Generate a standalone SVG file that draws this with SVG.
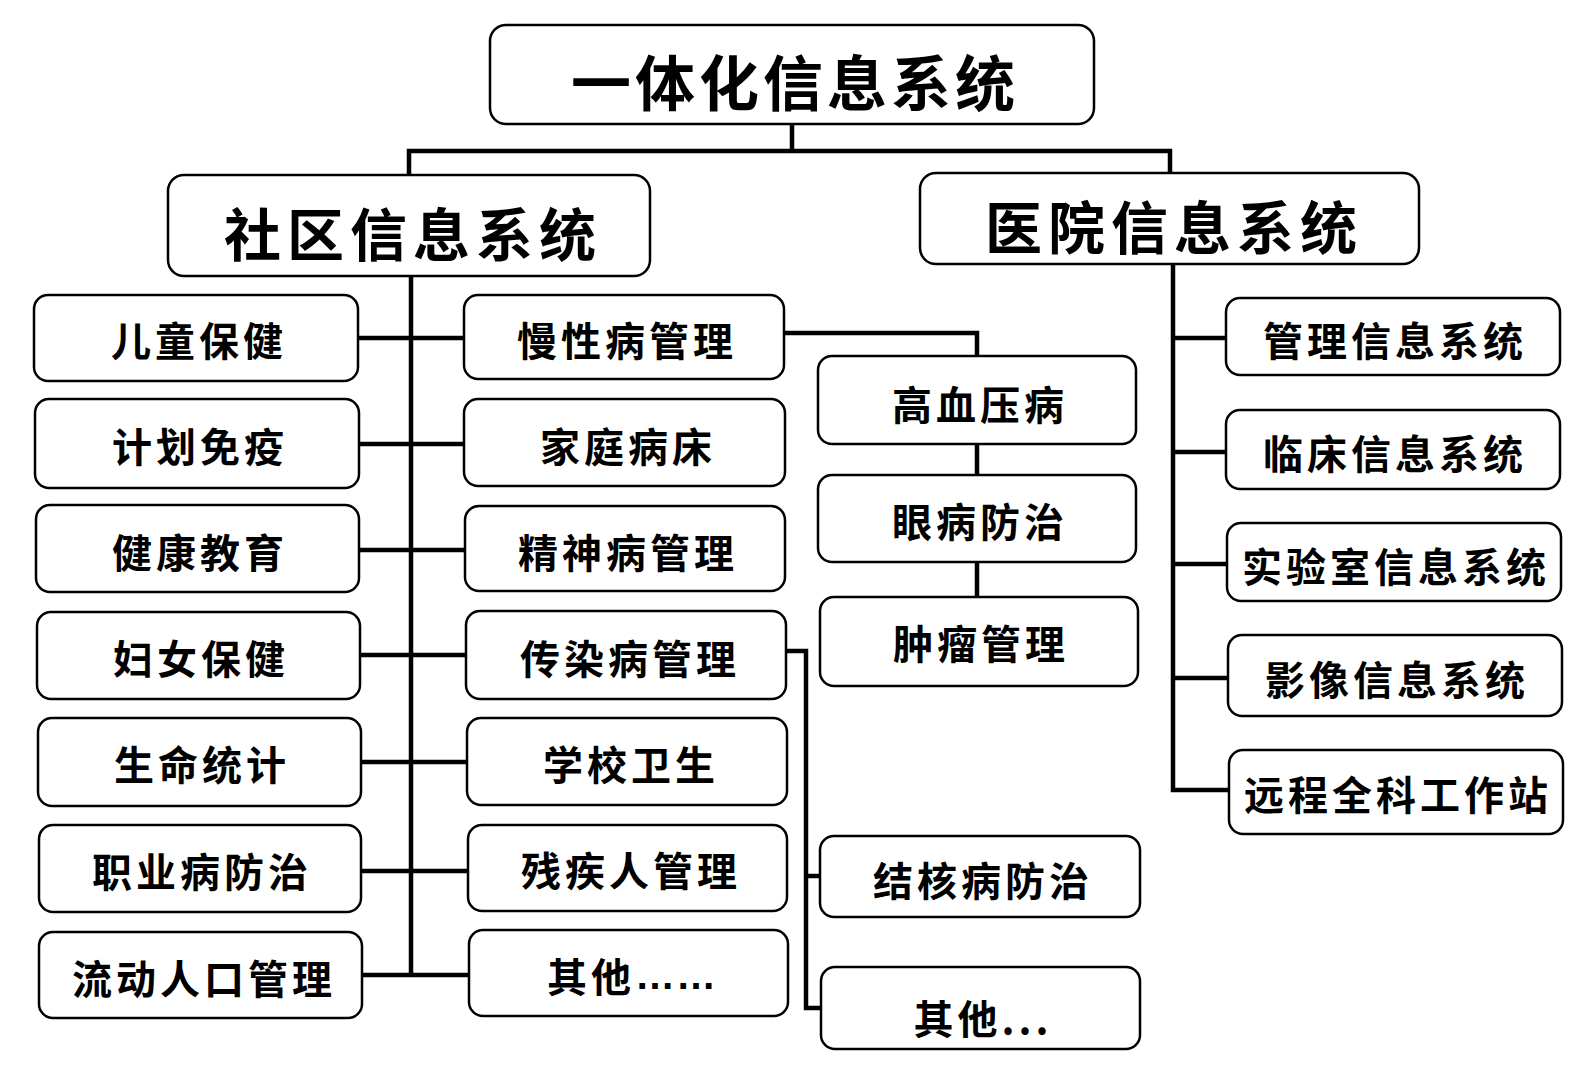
<svg xmlns="http://www.w3.org/2000/svg" width="1593" height="1087" viewBox="0 0 1593 1087">
<style>
.box{fill:#fff;stroke:#000;stroke-width:2.5}
.ln{fill:none;stroke:#000;stroke-width:4.5}
text{font-family:"Noto Sans CJK SC","Noto Sans CJK TC",sans-serif;font-weight:bold;fill:#000;text-anchor:middle;dominant-baseline:central}
.big{font-size:57px;letter-spacing:6px}
.sm{font-size:40px;letter-spacing:4px}
.dots{font-family:"Liberation Sans",sans-serif;font-weight:bold;letter-spacing:1px}
</style>
<rect width="1593" height="1087" fill="#fff"/>
<g id="connectors">
<path class="ln" d="M792,124 V151 M409,175 V151 H1170 V173"/>
<path class="ln" d="M411,276 V975"/>
<path class="ln" d="M358,338 H464 M359,444 H464 M359,550 H465 M360,655 H466 M361,762 H467 M361,871 H468 M362,975 H469"/>
<path class="ln" d="M784,333 H977 V356 M977,444 V475 M977,562 V597"/>
<path class="ln" d="M786,651 H806 V1008 H821 M806,876 H820"/>
<path class="ln" d="M1173,264 V790 H1229 M1173,338 H1226 M1173,452 H1226 M1173,564 H1227 M1173,678 H1228"/>
</g>
<g id="n-root"><rect class="box" x="490" y="25" width="604" height="99" rx="16"/><text class="big" x="795" y="79" style="font-size:60px;letter-spacing:4px">一体化信息系统</text></g>
<g id="n-community"><rect class="box" x="168" y="175" width="482" height="101" rx="16"/><text class="big" x="413" y="231">社区信息系统</text></g>
<g id="n-hospital"><rect class="box" x="920" y="173" width="499" height="91" rx="16"/><text class="big" x="1174" y="224">医院信息系统</text></g>

<g id="n-c1"><rect class="box" x="34" y="295" width="324" height="86" rx="14"/><text class="sm" x="199" y="339">儿童保健</text></g>
<g id="n-c2"><rect class="box" x="35" y="399" width="324" height="89" rx="14"/><text class="sm" x="200" y="445">计划免疫</text></g>
<g id="n-c3"><rect class="box" x="36" y="505" width="323" height="87" rx="14"/><text class="sm" x="200" y="551">健康教育</text></g>
<g id="n-c4"><rect class="box" x="37" y="612" width="323" height="87" rx="14"/><text class="sm" x="201" y="657">妇女保健</text></g>
<g id="n-c5"><rect class="box" x="38" y="718" width="323" height="88" rx="14"/><text class="sm" x="202" y="763">生命统计</text></g>
<g id="n-c6"><rect class="box" x="39" y="825" width="322" height="87" rx="14"/><text class="sm" x="202" y="870">职业病防治</text></g>
<g id="n-c7"><rect class="box" x="39" y="932" width="323" height="86" rx="14"/><text class="sm" x="204" y="977">流动人口管理</text></g>

<g id="n-m1"><rect class="box" x="464" y="295" width="320" height="84" rx="14"/><text class="sm" x="627" y="339">慢性病管理</text></g>
<g id="n-m2"><rect class="box" x="464" y="399" width="321" height="87" rx="14"/><text class="sm" x="628" y="445">家庭病床</text></g>
<g id="n-m3"><rect class="box" x="465" y="506" width="320" height="85" rx="14"/><text class="sm" x="628" y="551">精神病管理</text></g>
<g id="n-m4"><rect class="box" x="466" y="611" width="320" height="88" rx="14"/><text class="sm" x="630" y="657">传染病管理</text></g>
<g id="n-m5"><rect class="box" x="467" y="718" width="320" height="87" rx="14"/><text class="sm" x="631" y="763">学校卫生</text></g>
<g id="n-m6"><rect class="box" x="468" y="825" width="319" height="86" rx="14"/><text class="sm" x="631" y="869">残疾人管理</text></g>
<g id="n-m7"><rect class="box" x="469" y="930" width="319" height="86" rx="14"/><text class="sm" x="632" y="975">其他<tspan class="dots">……</tspan></text></g>

<g id="n-h1"><rect class="box" x="818" y="356" width="318" height="88" rx="14"/><text class="sm" x="980" y="403">高血压病</text></g>
<g id="n-h2"><rect class="box" x="818" y="475" width="318" height="87" rx="14"/><text class="sm" x="980" y="520">眼病防治</text></g>
<g id="n-h3"><rect class="box" x="820" y="597" width="318" height="89" rx="14"/><text class="sm" x="981" y="642">肿瘤管理</text></g>
<g id="n-t1"><rect class="box" x="820" y="836" width="320" height="81" rx="14"/><text class="sm" x="983" y="879">结核病防治</text></g>
<g id="n-t2"><rect class="box" x="821" y="967" width="319" height="82" rx="14"/><text class="sm" x="983" y="1017">其他...</text></g>

<g id="n-r1"><rect class="box" x="1226" y="298" width="334" height="77" rx="14"/><text class="sm" x="1395" y="339">管理信息系统</text></g>
<g id="n-r2"><rect class="box" x="1226" y="410" width="334" height="79" rx="14"/><text class="sm" x="1395" y="452">临床信息系统</text></g>
<g id="n-r3"><rect class="box" x="1227" y="523" width="334" height="78" rx="14"/><text class="sm" x="1396" y="565">实验室信息系统</text></g>
<g id="n-r4"><rect class="box" x="1228" y="635" width="334" height="81" rx="14"/><text class="sm" x="1397" y="678">影像信息系统</text></g>
<g id="n-r5"><rect class="box" x="1229" y="750" width="334" height="84" rx="14"/><text class="sm" x="1398" y="793">远程全科工作站</text></g>
</svg>
